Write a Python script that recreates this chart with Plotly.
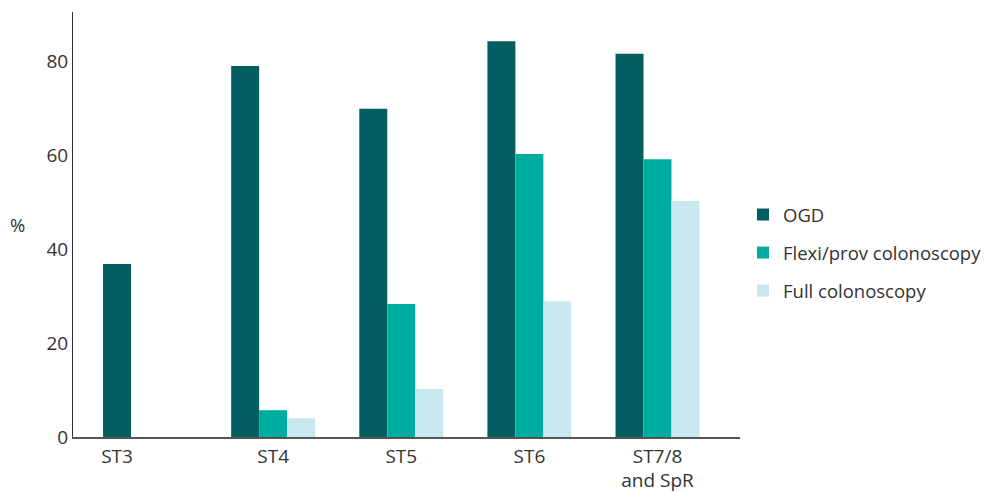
import plotly.graph_objects as go

# Share of trainees performing each procedure, by training stage (%)
stages = ["ST3", "ST4", "ST5", "ST6", "ST7/8<br>and SpR"]
ogd = [36.8, 78.9, 69.8, 84.2, 81.5]
flexi = [None, 5.7, 28.3, 60.2, 59.1]
full = [None, 4.0, 10.2, 28.9, 50.2]

series = [
    ("OGD", ogd, "#025e60"),
    ("Flexi/prov colonoscopy", flexi, "#00ab9f"),
    ("Full colonoscopy", full, "#c6e8ee"),
]

BARGAP = 0.345
n_series = len(series)
bar_w = (1 - BARGAP) / n_series
offsets = [(i - (n_series - 1) / 2) * bar_w for i in range(n_series)]

xpos = list(range(len(stages)))

# Place each stage label under the bars that actually have data
tickvals = []
for k in xpos:
    present = [offsets[i] for i, (_, vals, _) in enumerate(series) if vals[k] is not None]
    tickvals.append(k + sum(present) / len(present))

fig = go.Figure()
for name, vals, color in series:
    fig.add_trace(go.Bar(
        x=xpos, y=vals, name=name, legendgroup=name,
        marker=dict(color=color, line=dict(width=0)),
    ))

font_family = "Open Sans, Segoe UI, sans-serif"

fig.update_layout(
    width=984, height=492,
    barmode="group", bargap=BARGAP, bargroupgap=0,
    plot_bgcolor="white", paper_bgcolor="white",
    margin=dict(l=73, r=244, t=12, b=55, autoexpand=False),
    font=dict(family=font_family, size=19, color="#333333"),
    showlegend=True,
    legend=dict(
        x=1.0045, xanchor="left", y=0.433, yanchor="middle",
        traceorder="grouped", tracegroupgap=11,
        font=dict(size=18.5, color="#333333"),
        bgcolor="rgba(0,0,0,0)",
    ),
    xaxis=dict(
        range=[-0.562, 4.644],
        tickmode="array", tickvals=tickvals, ticktext=stages,
        showline=True, linecolor="#555555", linewidth=1.5,
        showgrid=False, zeroline=False, ticks="",
        tickfont=dict(size=19), ticklabelstandoff=1,
        automargin=False,
    ),
    yaxis=dict(
        range=[0, 90.4],
        tickmode="array", tickvals=[0, 20, 40, 60, 80],
        showline=True, linecolor="#333333", linewidth=1,
        showgrid=False, zeroline=False, ticks="",
        tickfont=dict(size=19), automargin=False,
    ),
    annotations=[dict(
        text="%", xref="paper", yref="paper", x=-0.083, y=0.5,
        xanchor="center", yanchor="middle", showarrow=False,
        font=dict(size=18.5, color="#333333"),
    )],
)

fig.write_html("out.html")
